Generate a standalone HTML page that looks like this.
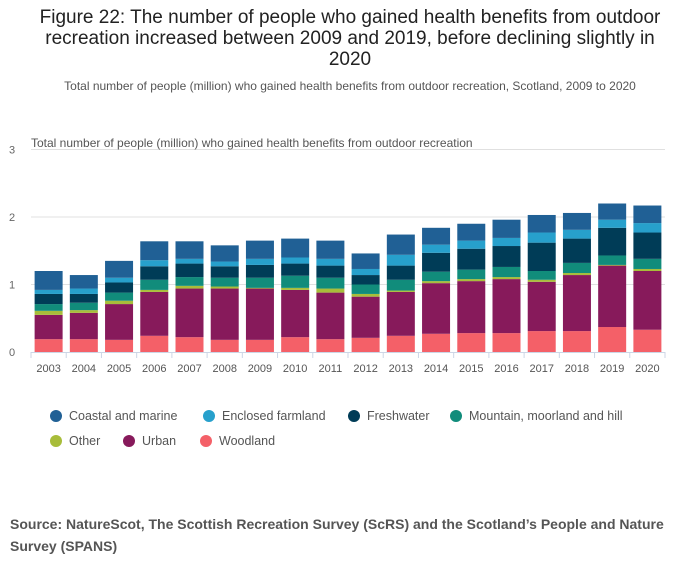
<!DOCTYPE html>
<html><head><meta charset="utf-8"><style>
body{margin:0;width:700px;height:574px;background:#fff;font-family:"Liberation Sans",sans-serif;overflow:hidden;position:relative}
.title{position:absolute;left:30px;width:640px;top:7px;text-align:center;font-size:19px;line-height:21px;color:#222}
.sub{position:absolute;left:0;width:700px;top:79px;text-align:center;font-size:12px;color:#555}
.src{position:absolute;left:10px;top:513px;width:680px;font-size:14px;font-weight:bold;color:#555;line-height:22px}
</style></head><body>
<div class="title">Figure 22: The number of people who gained health benefits from outdoor recreation increased between 2009 and 2019, before declining slightly in 2020</div>
<div class="sub">Total number of people (million) who gained health benefits from outdoor recreation, Scotland, 2009 to 2020</div>
<svg id="chart" width="700" height="500" style="position:absolute;left:0;top:0"></svg>
<div class="src">Source: NatureScot, The Scottish Recreation Survey (ScRS) and the Scotland’s People and Nature Survey (SPANS)</div>
<script>
const years=["2003","2004","2005","2006","2007","2008","2009","2010","2011","2012","2013","2014","2015","2016","2017","2018","2019","2020"];
const woodland=[.19,.19,.18,.24,.22,.18,.18,.22,.19,.21,.24,.27,.28,.28,.31,.31,.37,.33];
const urban=[.36,.39,.53,.65,.72,.76,.76,.70,.69,.61,.65,.75,.77,.80,.73,.83,.91,.87];
const other=[.06,.04,.05,.03,.04,.03,.01,.03,.06,.04,.02,.03,.03,.03,.03,.03,.01,.03];
const mountain=[.10,.11,.12,.15,.13,.13,.15,.18,.16,.14,.16,.14,.14,.15,.13,.15,.14,.15];
const freshwater=[.15,.13,.15,.20,.20,.17,.19,.18,.18,.14,.21,.28,.31,.31,.42,.36,.41,.39];
const farmland=[.06,.08,.07,.09,.07,.07,.09,.09,.10,.09,.16,.12,.12,.12,.15,.13,.12,.14];
const coastal=[.28,.20,.25,.28,.26,.24,.27,.28,.27,.23,.30,.25,.25,.27,.26,.25,.24,.26];
const yTicks=[0,1,2,3];
const seriesNames=["Woodland","Urban","Other","Mountain, moorland and hill","Freshwater","Enclosed farmland","Coastal and marine"];
const series=[woodland,urban,other,mountain,freshwater,farmland,coastal];
const colors=["#f46068","#871a5b","#a8bd3a","#118c7b","#003c57","#27a0cc","#206095"];
const svg=document.getElementById('chart');const NS="http://www.w3.org/2000/svg";
const x0=31,x1=665,y0=352,unit=67.5;
const band=(x1-x0)/years.length,bw=28;
const y=v=>y0-v*unit;
function el(t,a,p){const e=document.createElementNS(NS,t);for(const k in a)e.setAttribute(k,a[k]);(p||svg).appendChild(e);return e;}
yTicks.forEach(t=>{
 if(t>0){const g=el('line',{x1:x0,x2:x1,y1:y(t),y2:y(t),stroke:'#e0e0e0'});
 
 }
 const l=el('text',{x:12,y:y(t)+4,'font-size':11,fill:'#666','text-anchor':'middle'});l.textContent=t;
 
 
});
const yt=el('text',{x:31,y:147,'font-size':12,fill:'#555'});yt.textContent="Total number of people (million) who gained health benefits from outdoor recreation";


years.forEach((yr,i)=>{
 let cum=0;const cx=x0+band*i+band/2;
 series.forEach((s,j)=>{
  const v=s[i];const r=el('rect',{x:cx-bw/2,y:y(cum+v),width:bw,height:v*unit,fill:colors[j]});
  
  
  cum+=v;
 });
 const t=el('text',{x:cx,y:372,'font-size':11,fill:'#555','text-anchor':'middle'});t.textContent=yr;
 
 
});
el('line',{x1:x0,x2:x1,y1:y0+.5,y2:y0+.5,stroke:'#ccd6e6'});
for(let i=0;i<=years.length;i++){const xx=x0+band*i;el('line',{x1:xx,x2:xx,y1:y0,y2:y0+6,stroke:'#ccd6e6'});}
const leg=[["Coastal and marine",6,56,416],["Enclosed farmland",5,209,416],["Freshwater",4,354,416],["Mountain, moorland and hill",3,456,416],["Other",2,56,441],["Urban",1,129,441],["Woodland",0,206,441]];
leg.forEach(l=>{
 const g=el('g',{});
 
 
 el('circle',{cx:l[2],cy:l[3],r:6,fill:colors[l[1]]},g);
 const t=el('text',{x:l[2]+13,y:l[3]+4,'font-size':12.5,fill:'#555'},g);t.textContent=l[0];
});
</script>
</body></html>
